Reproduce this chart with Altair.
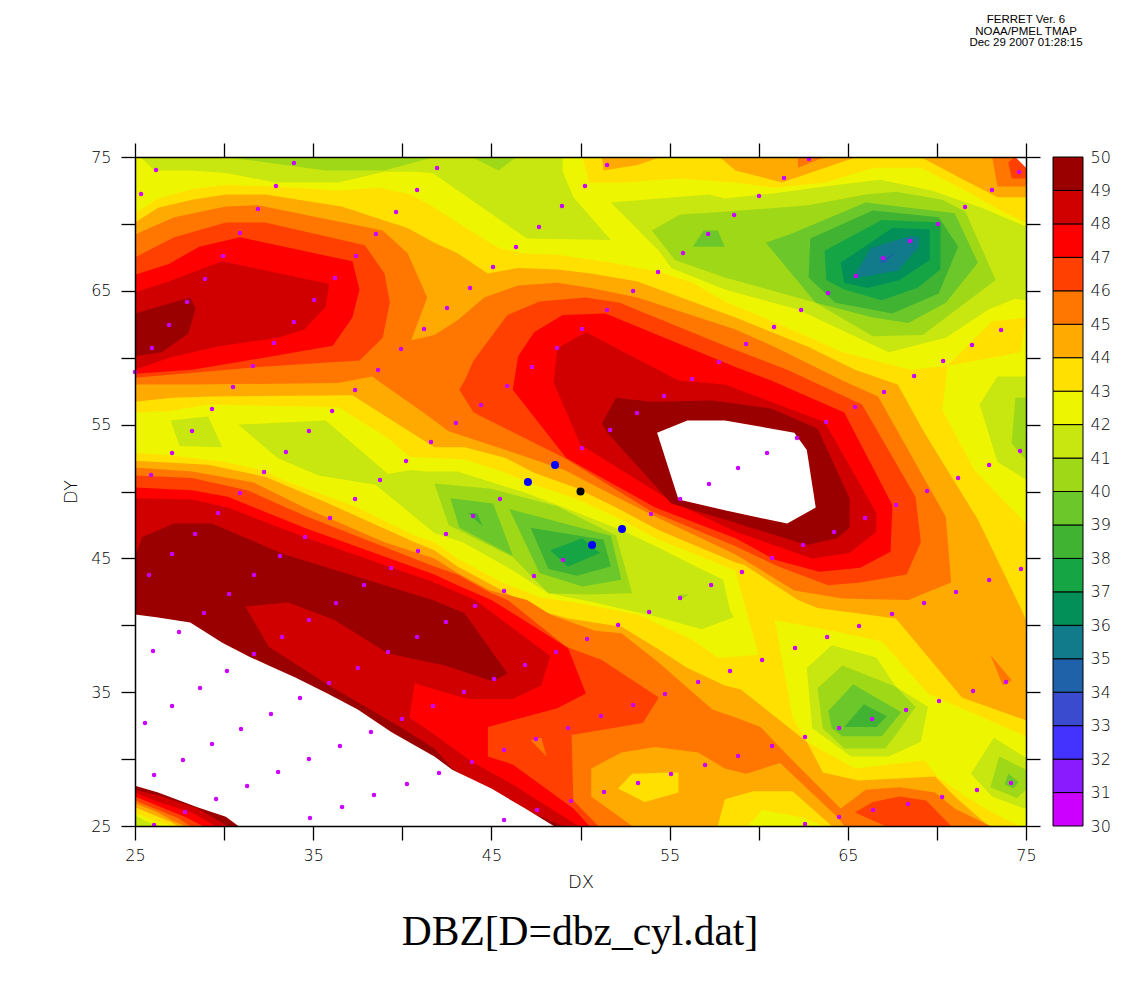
import altair as alt
import pandas as pd

BANDS = ["none", "30", "31", "32", "33", "34", "35", "36", "37", "38", "39", "40", "41", "42", "43", "44", "45", "46", "47", "48", "49"]
COLORS = ["#ffffff", "#cc00ff", "#8a1aff", "#4433ff", "#3a4bd0", "#1f62aa", "#117a8b", "#029058", "#16a545", "#40b333",
          "#6cc82a", "#9fd816", "#c8e60f", "#eef500", "#ffe000", "#ffaa00", "#ff7700", "#ff4000", "#ff0000", "#d00000", "#9b0000"]
BAR_LEVELS = list(range(30, 50))
TICKS = [25, 30, 35, 40, 45, 50, 55, 60, 65, 70, 75]

FRAME = [(25, 25), (75, 25), (75, 75), (25, 75)]
B42_TOP = [(25,75),(50.1,75),(50.5,73.1),(52.5,73.1),(55.5,73.4),(58.7,73.1),(60.9,72.7),(63.7,73.1),(66.5,74.2),(69.1,74.2),(71.6,72.5),(73.7,70.9),(75,70.1),(75,63),(73.1,62.7),(70.6,59.4),(68.5,59.1),(64.7,60.4),(61.5,62.3),(58.1,64.2),(56.3,65.6),(54.4,66.4),(51.8,67.1),(48.7,67.7),(46.7,67.8),(45.4,68.2),(43.1,70.1),(41.8,71.2),(40.5,72.2),(38.7,72.7),(36.4,72.5),(32.9,72.8),(30.1,72.9),(28.2,72.6),(26.3,71.9),(25,70.8)]
B42_RIGHT = [(70.6,59.4),(74.7,60.4),(75,63),(75,47.6),(72.1,51.6),(70.3,56.1)]
B42_MID = [(25,55.9),(26.9,56),(29.1,56.5),(36.4,56.3),(39.2,54),(40.4,52.6),(43.5,52.4),(45.8,51.4),(47.4,50.5),(49.7,49.5),(52,48.1),(54.4,46.4),(58.7,44.1),(59.3,41.1),(60,37.8),(58.1,37.6),(57.7,37.6),(56.3,38.9),(53.2,40.8),(49.7,41.7),(47.7,42.1),(45.6,43.2),(43.1,45),(41.8,46.2),(40.7,46.7),(37.5,48.8),(33.4,50.8),(32.1,51.6),(30.1,52.2),(26.9,52.7),(25,52.9)]
B42_LOW = [(60.9,40.4),(64.1,39.6),(66.9,38.8),(69.5,34.9),(75,31.7),(75,25),(74.6,25),(73.1,26),(71.6,27.2),(70.1,28.6),(69.3,29.9),(65.4,29.3),(62.7,31.3),(61.9,33.1)]
B42_BOT = [(59.4,25),(60.2,26.2),(62.6,25.6),(63.6,25)]

B41 = [
    [(25.3,75),(26.1,74),(28.2,74),(30.1,73.8),(32.9,73.1),(36.4,73.1),(39,73.9),(40.7,73.9),(41.7,73.8),(47,68.9),(51.7,68.8),(49.6,72),(49,73.9),(49,75)],
    [(51.7,71.6),(57.2,72.2),(58.1,71.9),(60.9,72.3),(63.7,72.8),(66.8,73.3),(69.7,72.5),(72.5,71.2),(75,69.8),(75,64.3),(74.4,64.4),(72.9,63.6),(70.5,61.5),(67.3,60.4),(62.2,63.6),(58.1,65.1),(55.1,66.7),(54.4,68)],
    [(27,55.3),(29.1,55.6),(29.9,53.3),(27.5,53.4)],
    [(30.8,55),(35.7,55.3),(39.2,51.3),(40.5,51.6),(41.3,51.5),(43.1,51.5),(45,50.7),(46.9,49.9),(48.7,49),(50.6,48),(52.3,47.1),(54.4,45.8),(56.3,44.5),(58,43.4),(58.4,41.1),(58.6,40.6),(56.8,39.7),(54.4,40.6),(50.8,41.7),(48.2,42.4),(46.2,44.1),(43.4,46.2),(41.8,46.9),(38.5,50.5),(35.3,51.2),(33,52.5)],
    [(73.4,58.6),(75,58.6),(75,50.9),(73.4,52.2),(72.4,56.5)],
    [(64.1,38.5),(66.6,37.6),(67.7,35.4),(69.5,33.9),(69.1,31.3),(67.3,30.2),(65.2,30.2),(63,32.3),(62.7,36.8)],
    [(73.2,31.6),(75,30.1),(75,26.3),(74.7,26.4),(73.1,27.2),(71.9,28.9)],
]
B40 = [
    [(30.1,75),(32.3,74.6),(35.7,74),(39,74),(41.8,75)],
    [(43.9,75),(45.4,74),(46.4,75)],
    [(54,69.5),(55.6,70.7),(58.1,70.9),(62.8,71.4),(66,72.2),(67.7,72.4),(70.3,71.8),(71.6,70.9),(73.3,65.8),(69.2,61.7),(66.4,61.6),(63.2,64.1),(58.1,66),(55.3,67.3)],
    [(41.8,50.6),(45,50.2),(48.7,48.9),(52,46.7),(52.9,42.4),(50.3,42.3),(48.2,42.4),(46.2,45.1),(42.6,47.5)],
    [(55.5,42.3),(56.1,42.3),(55.6,41.9)],
    [(74.4,57),(75,57),(75,52.4),(74.6,52.9),(74.2,53.6)],
    [(64.7,37),(67.7,35.4),(68.8,33.9),(67.8,32),(67.1,30.8),(64.8,30.8),(63.6,32.3),(63.3,35.3)],
    [(73.5,30.2),(75,29.2),(75,27.7),(74.5,27.1),(73,27.9)],
]
B39 = [
    [(56.9,69.5),(57.7,69.5),(58.1,68.3),(56.3,68.3)],
    [(60.4,68.6),(61.9,69.3),(66,71.6),(71,70.8),(72.3,67.1),(70.5,64.1),(68.4,62.6),(66.4,63),(63.2,64.1)],
    [(42.7,49.5),(45.1,49.1),(46.2,45.2),(43.2,47.3)],
    [(46,48.7),(51.7,46.7),(52.3,43.4),(50.1,42.9),(47.7,43.9)],
    [(65.3,35.6),(68,33.5),(66.9,31.7),(64.7,31.7),(64.1,32.3),(63.9,33.6)],
    [(74,28.9),(74.6,28.3),(74.3,27.8),(73.8,28.1)],
]
B38 = [
    [(62.9,68.9),(66.4,71),(70.1,70.5),(71.2,68.3),(70.1,64.8),(67.5,63.3),(64.3,64.1),(62.8,66)],
    [(43.7,48.4),(44.2,48.4),(44.5,47.4)],
    [(47.2,47.3),(51.3,46.4),(51.7,44.4),(49.8,43.7),(48.2,44.2)],
    [(65.9,34.1),(67.2,33.2),(66.6,32.4),(64.8,32.4)],
]
B37 = [
    [(63.7,68),(66.9,70.3),(70.2,70.1),(70.2,66.6),(68.9,65.2),(66.9,64.3),(64.8,65.1),(63.8,65.8)],
    [(48.3,45.6),(50.1,46.5),(51.1,45.4),(49.3,44.4)],
]
B36 = [[(64.6,67.1),(67.5,69.7),(69.6,69.6),(69.6,67.3),(67.9,65.8),(66.1,65.2),(64.8,65.6)]]
B35 = [[(65.3,66),(66.3,68.2),(68.5,69.1),(69,69),(69,68.3),(67.8,66.5),(65.6,66)]]
B34 = [[(66.7,67.1),(67.7,67.9),(67.1,67.1)]]

B44 = [
    [(25,70.1),(26.3,71.2),(28.2,71.8),(30.1,72.2),(32.3,72.2),(36.6,71.3),(38.9,70.3),(40.3,69.7),(41.8,68.6),(43.1,67.8),(44.8,66.3),(46.5,66.7),(48.7,66.6),(50.6,66.3),(53.2,65.7),(58.7,63),(62.8,60.8),(65.4,59.1),(67.8,58),(69.3,54.4),(72.3,47.9),(74.7,41.3),(75,40.4),(75,32.9),(71.4,34.6),(67.7,40.5),(63.3,41.3),(62.2,41.9),(59.2,44.5),(58.7,44.7),(54.4,47.1),(52,48.8),(49.7,50.3),(47.4,51.4),(45.8,52.5),(43.5,53.3),(41.8,53.3),(37.2,57.2),(29.3,57.1),(27.1,57),(25,56.7)],
    [(51.2,75),(54.5,75),(53.2,74.4),(51.3,74)],
    [(57.8,75),(58.7,74),(61.3,73.1),(65.5,75)],
    [(69.1,75),(71.2,73.5),(73.4,72),(75,72),(75,75)],
    [(25,52.3),(29.1,52),(32.3,51.1),(35.7,49.2),(40.7,46.2),(41.8,45.6),(43.1,44.4),(45.6,42.6),(47.7,41.1),(49.3,40.5),(52.3,39.9),(54.4,38.2),(56,36.8),(58.1,35.5),(59,35.2),(62.7,31.3),(63.6,29),(65.6,28.4),(69.9,28.7),(71,27.2),(72.9,25),(64.1,25),(61.9,27.6),(59.7,27.6),(58.1,27),(57.7,25),(25,25)],
]
B43_ISLAND = [(52.1,27.8),(52.9,28.9),(55.1,29),(55.5,29),(55.5,27.5),(53.6,26.8)]
B45 = [
    [(25,69.2),(27.2,70.5),(30.1,71.3),(31.9,71.4),(38.9,69.5),(40.3,67.8),(41.4,64.5),(40.5,61.3),(41.8,61.7),(43.1,62.8),(44.6,64.5),(46.5,65.4),(48.7,65.6),(50.6,65.2),(53.2,64.5),(58.7,62.1),(60.9,60.8),(64.7,58.3),(66.7,57.1),(70.5,48.1),(70.8,43.2),(68.4,41.9),(64.7,42),(62,42.6),(58.7,45.3),(54.4,48),(52,49.6),(49.1,51.6),(45.8,53.1),(42.6,54.5),(41.3,55.8),(38.3,58.6),(36.4,58.1),(28.2,58),(25,58)],
    [(25,51.8),(28.2,51.5),(31.6,50.7),(34.5,48.8),(39,46.2),(41.8,45),(43.1,43.9),(44.9,42.6),(47,41.9),(48.3,40.8),(50.8,39.6),(52.3,39.4),(54.4,37.2),(57.4,33.7),(58.7,33.1),(60.1,32.4),(61.6,30.3),(64.6,26.3),(66,27.7),(67.9,27.9),(69.9,27.5),(71,26.3),(73,25),(64.8,25),(64.4,25.7),(63.9,26.3),(61.2,29.7),(59.3,28.9),(58.1,29.3),(56.6,30.5),(54.2,30.9),(52.3,30.5),(50.6,29.3),(50.6,27.2),(52.9,25),(25,25)],
    [(73,37.8),(74.2,35.9),(73.7,35.5)],
    [(62.2,75),(63.7,75),(62.2,74.2)],
    [(73.1,75),(73.4,72.8),(75,72.8),(75,75)],
]
B46 = [
    [(25,67.5),(27.2,69),(30.1,70.1),(32.3,70.1),(37.9,68.4),(39,66.3),(39.3,64.1),(38.9,61.5),(37.6,59.8),(31.9,59.3),(25,58.5)],
    [(43.2,57.6),(43.5,58.3),(44,59.8),(45.9,63.2),(47.7,64.2),(50.3,64.5),(52.2,64.1),(58.1,60.9),(61.6,59.1),(65.8,56.5),(68.8,49.6),(69.1,46.2),(68.3,43.8),(65.7,43.2),(63.9,43),(61.1,44.4),(58.7,45.9),(54,48.5),(49.1,52.5),(44,55.9)],
    [(25,51.2),(28.2,51),(31.3,50.1),(34.5,48.2),(41.8,44.4),(43.1,43.8),(45,42.4),(45.9,41.9),(49.2,38.4),(51.2,37.4),(54.4,34.6),(53.5,32.7),(49.5,31.8),(49.6,26.9),(51,25),(25,25)],
    [(65.4,26),(66.4,26.8),(67.9,27.2),(69.4,26.9),(70.8,25),(67.1,25)],
    [(74,74.6),(74.2,73.4),(75,73.4),(75,75),(74.4,75)],
]
B45_NOTCH = [(47.2,31.4),(47.8,31.6),(48.1,30.2)]
B47 = [
    [(25,66.2),(26.9,67),(28.6,68.3),(30.9,69),(37.2,67.2),(37.6,65.1),(37.2,63),(36.1,60.9),(32.7,60.1),(28.2,59.1),(25,58.8)],
    [(46.2,57.6),(46.5,60.1),(47.4,61.9),(49,63.2),(51.4,63.3),(58.7,59.3),(60.7,58.3),(64.8,55.9),(67.5,49),(67.4,45.5),(65.7,44.3),(63.4,44),(60.9,44.9),(58.7,46.5),(54.2,48.8),(49.2,52.5)],
    [(25,50.3),(28.2,50.1),(30.2,49.6),(34.5,47.3),(41.8,43.8),(43.1,43),(45,41.9),(49.3,38.3),(50.3,34.9),(48.7,33.8),(44.8,32.4),(44.8,30.2),(46.2,29.6),(49.6,26.3),(50.5,25),(25,25)],
]
B48 = [
    [(25,64.9),(26.7,65.6),(29.9,67.2),(35.9,65.5),(35.7,63.8),(34.5,62.1),(33,61.5),(29.5,60.8),(26.9,60),(25,59.1)],
    [(48.5,58.1),(48.7,60.7),(50.3,61.9),(55.5,58.3),(58.1,58),(63.7,55.2),(66.6,48.4),(66.6,47),(65.1,45.4),(63,45),(58.7,47),(55.2,49.2),(50,53.5)],
    [(25,49.5),(28.2,49.4),(30.2,48.8),(34.5,46.6),(41.8,43.2),(44.1,41.9),(48.3,37.7),(47.8,35.5),(46.2,34.5),(43.7,34.5),(41.3,35.4),(40.7,35.7),(40.4,33.1),(41.3,32.3),(43.9,29.8),(46.2,28.1),(49.9,25),(25,25)],
]
B49 = [
    [(25,63.3),(28.1,64.5),(28.4,63.7),(28,61.8),(26.5,60.4),(25,60.1)],
    [(51.2,55.1),(52,57),(54,56.7),(57.4,56.8),(60.7,56.2),(63.3,54.7),(65.1,49.5),(65.1,47.3),(64.4,46.5),(62.7,46),(58.1,47.9),(55.1,49.1),(51.5,54.4)],
    [(25,45.1),(25.4,46.6),(27.2,47.6),(29.3,47.6),(33.4,45.3),(41.7,41.9),(43.5,40.9),(45.9,36.4),(45.1,35.8),(42.4,37),(41.3,37.3),(39.2,37.9),(36.2,40.4),(33.6,41.7),(31.2,41.4),(32.5,38.4),(35.9,35.5),(40,32.3),(41.8,30.8),(42.8,29.3),(46.7,26.3),(49,25),(25,25)],
]
HOLES = [
    [(54.3,54.4),(56,55.3),(58.1,55.3),(62,54.4),(62.7,53.1),(63.2,48.8),(61.6,47.6),(58.1,48.6),(55.5,49.4)],
    [(25,40.8),(26.2,40.6),(28.1,40.2),(29.9,38.7),(31.5,37.6),(32.5,37),(34,36.1),(35.8,34.9),(37.5,33.7),(39.4,32),(41.8,30.2),(42.8,29.2),(45,27.8),(46.9,26.3),(48.5,25),(30.8,25),(30.1,25.7),(28.5,26.4),(26.3,27.5),(25,28)],
    [(74.4,75),(75,75),(75,74.2)],
]
WEDGE = [
    ("48", [(25,27.7),(26.5,27.2),(28.5,26.3),(30.2,25),(25,25)]),
    ("47", [(25,27.5),(26.3,26.8),(28.2,26),(29.5,25),(25,25)]),
    ("46", [(25,27.2),(26.3,26.5),(27.8,25.7),(28.8,25),(25,25)]),
    ("45", [(25,26.9),(26.3,26.2),(27.4,25.6),(28.1,25),(25,25)]),
    ("44", [(25,26.7),(26.3,26),(27.1,25.4),(27.8,25),(25,25)]),
    ("43", [(25,26.4),(26.3,25.7),(27,25.3),(27.4,25),(25,25)]),
    ("42", [(25,26),(26.1,25.4),(27.1,25),(25,25)]),
    ("41", [(25,25.8),(25.7,25.3),(26.4,25),(25,25)]),
]

DOTS = [(26.18,74.03),(33.92,74.55),(25.34,72.24),(32.91,72.83),(40.83,72.53),(31.9,71.11),(39.65,70.89),(30.89,69.32),(38.52,69.25),(29.94,67.6),(37.4,67.6),(28.93,65.88),(36.22,65.96),(27.92,64.16),(35.05,64.31),(26.91,62.44),(33.92,62.67),(25.95,60.73),(32.8,61.1),(41.22,62.15),(39.93,60.65),(31.62,59.38),(38.64,59.08),(25,58.93),
(41.95,74.18),(51.49,74.4),(50.25,72.83),(48.96,71.34),(47.67,69.77),(46.38,68.27),(45.09,66.78),(43.8,65.21),(42.51,63.72),(58.62,70.67),(57.16,69.25),(55.75,67.83),(54.35,66.41),(52.95,64.99),(51.49,63.57),(50.09,62.15),(48.68,60.73),(47.28,59.31),(57.77,59.68),(56.26,58.41),
(62.82,74.85),(61.42,73.43),(60.02,72.09),(74.61,73.88),(73.09,72.53),(71.58,71.26),(70.06,69.99),(68.49,68.72),(66.98,67.45),(65.46,66.11),(63.89,64.84),(62.38,63.57),(60.86,62.3),(59.29,61.02),(73.6,62.07),(71.97,60.95),(70.35,59.75),(68.72,58.63),
(30.5,57.81),(37.35,57.59),(29.32,56.17),(36.06,56.02),(28.2,54.52),(34.76,54.52),(41.61,53.7),(27.08,52.88),(33.47,52.95),(40.21,52.28),(25.9,51.23),(32.24,51.46),(38.75,50.86),(30.89,49.89),(37.35,49.44),(29.66,48.39),(35.94,48.02),(28.37,46.82),(34.54,46.6),(40.88,45.55),(27.08,45.33),(33.14,45.18),(39.37,44.28),(25.79,43.76),(31.68,43.76),(37.85,43.01),(30.28,42.34),(36.28,41.67),
(45.88,57.89),(54.69,57.14),(44.42,56.47),(53.17,55.87),(43.01,55.12),(51.66,54.6),(50.09,53.25),(57.21,50.56),(45.48,49.44),(55.59,49.44),(43.97,48.17),(53.96,48.32),(42.45,46.82),(49.02,44.88),(47.39,43.69),(45.71,42.56),(44.08,41.44),(57.33,43.01),(55.59,42.04),
(67.03,57.44),(65.41,56.32),(63.78,55.2),(62.15,54),(60.47,52.88),(58.84,51.76),(74.67,53.03),(72.93,51.98),(71.19,51.01),(69.45,50.04),(67.71,48.99),(65.97,48.02),(64.23,46.97),(62.49,46),(60.75,45.03),(59.06,43.98),(74.72,44.21),(72.93,43.39),(71.07,42.49),(69.28,41.67),
(28.87,40.92),(34.76,40.4),(27.47,39.5),(33.25,39.13),(40.83,39.13),(26.01,38.08),(31.68,37.86),(39.2,38),(37.51,36.81),(30.16,36.58),(35.89,35.69),(28.65,35.31),(34.26,34.57),(27.08,33.97),(32.63,33.37),(41.72,33.97),(25.56,32.7),(30.95,32.25),(39.98,33),(38.24,32.03),(29.32,31.13),(36.5,30.98),(27.69,29.93),(34.76,30.01),(33.03,29.04),(26.07,28.81),(31.29,27.99),(40.26,28.14),(38.41,27.32),(29.55,27.02),(36.62,26.42),(27.81,26.05),(34.82,25.6),(26.07,25.07),
(53.85,40.99),(52.11,40.02),(42.45,40.25),(50.37,38.98),(48.63,38),(46.89,37.03),(45.15,35.99),(43.46,35.02),(58.39,36.58),(56.6,35.76),(54.74,34.87),(52.95,34.04),(51.15,33.22),(49.3,32.32),(47.5,31.5),(45.71,30.68),(43.91,29.78),(42.06,28.96),(56.99,29.56),(55.08,28.89),(53.23,28.21),(51.32,27.54),(49.47,26.87),(47.56,26.2),(45.71,25.45),
(67.48,40.85),(65.63,39.95),(63.84,39.13),(62.04,38.3),(60.19,37.41),(73.88,35.76),(72.03,35.09),(70.12,34.34),(68.27,33.67),(66.36,33),(64.51,32.32),(62.6,31.65),(60.75,30.98),(58.84,30.23),(74.16,28.21),(72.25,27.69),(70.29,27.17),(68.38,26.64),(66.42,26.2),(64.51,25.67),(62.6,25.15)]
BLUE_DOTS = [(48.57,51.98),(47.05,50.71),(52.33,47.2),(50.65,46)]
BLACK_DOTS = [(50,50)]

regions = [("43", FRAME), ("42", B42_TOP), ("42", B42_RIGHT), ("42", B42_MID), ("42", B42_LOW), ("42", B42_BOT)]
for band, group in [("41", B41), ("40", B40), ("39", B39), ("38", B38), ("37", B37), ("36", B36), ("35", B35), ("34", B34), ("44", B44)]:
    regions += [(band, p) for p in group]
regions.append(("43", B43_ISLAND))
for band, group in [("45", B45), ("46", B46)]:
    regions += [(band, p) for p in group]
regions.append(("45", B45_NOTCH))
for band, group in [("47", B47), ("48", B48), ("49", B49), ("none", HOLES)]:
    regions += [(band, p) for p in group]
regions += WEDGE

rows = []
for pid, (band, pts) in enumerate(regions):
    for seq, (x, y) in enumerate(pts):
        rows.append({"poly": pid, "seq": seq, "band": band, "dx": x, "dy": y})
poly_df = pd.DataFrame(rows)

FONT = "DejaVu Sans"
LIGHT = 200
dom = alt.Scale(domain=[25, 75], nice=False, zero=False)
label_expr = "(datum.value - 25) % 10 == 0 ? datum.label : ''"
line_style = dict(values=TICKS, tickSize=14, tickWidth=1.3, tickColor="black", domainColor="black", domainWidth=1.5,
                  grid=False, zindex=1, labelOverlap=False)
text_style = dict(labelFont=FONT, labelFontSize=16, labelFontWeight=LIGHT, labelColor="black", titleFont=FONT, titleFontSize=18,
                  titleFontWeight=LIGHT, titleColor="black", labelFlush=False, labelExpr=label_expr)

polys = alt.Chart(poly_df).mark_line(strokeWidth=0, interpolate="linear").encode(
    x=alt.X("dx:Q", scale=dom, axis=alt.Axis(title="DX", orient="bottom", labelPadding=7, titlePadding=10, **line_style, **text_style)),
    y=alt.Y("dy:Q", scale=dom, axis=alt.Axis(title="DY", orient="left", labelPadding=10, titlePadding=10, **line_style, **text_style)),
    order="seq:Q",
    detail="poly:Q",
    fill=alt.Fill("band:N", scale=alt.Scale(domain=BANDS, range=COLORS), legend=None),
)

def dot_layer(points, color, size):
    df = pd.DataFrame(points, columns=["dx", "dy"])
    return alt.Chart(df).mark_circle(color=color, size=size, opacity=1).encode(
        x=alt.X("dx:Q", scale=dom, axis=None), y=alt.Y("dy:Q", scale=dom, axis=None))

mirror = alt.Chart(pd.DataFrame({"dx": [25], "dy": [25]})).mark_point(opacity=0).encode(
    x=alt.X("dx:Q", scale=dom, axis=alt.Axis(orient="top", labels=False, title=None, **line_style)),
    y=alt.Y("dy:Q", scale=dom, axis=alt.Axis(orient="right", labels=False, title=None, **line_style)),
)

bar_df = pd.DataFrame({"lo": BAR_LEVELS, "hi": [v + 1 for v in BAR_LEVELS], "band": [str(v) for v in BAR_LEVELS]})
bar = alt.Chart(bar_df).mark_rect(stroke="black", strokeWidth=1).encode(
    x=alt.value(918), x2=alt.value(948),
    y=alt.Y("lo:Q", scale=alt.Scale(domain=[30, 50], nice=False, zero=False),
            axis=alt.Axis(orient="right", offset=57, values=list(range(30, 51)), tickSize=0, domain=False, grid=False, title=None,
                          labelFont=FONT, labelFontSize=16, labelFontWeight=LIGHT, labelColor="black", labelPadding=7, labelFlush=False, labelOverlap=False)),
    y2="hi:Q",
    fill=alt.Fill("band:N", scale=alt.Scale(domain=BANDS, range=COLORS), legend=None),
)

def note(text, px, py, size, font=FONT, weight=LIGHT):
    return alt.Chart(pd.DataFrame({"t": [text]})).mark_text(fontSize=size, font=font, fontWeight=weight, color="black", align="center", baseline="middle").encode(
        text="t:N", x=alt.value(px), y=alt.value(py))

title = note("DBZ[D=dbz_cyl.dat]", 445, 776, 41.5, "Liberation Serif", "normal")
h1 = note("FERRET Ver. 6", 891, -137, 11.5, "Liberation Sans", "normal")
h2 = note("NOAA/PMEL TMAP", 891, -125, 11.5, "Liberation Sans", "normal")
h3 = note("Dec 29 2007 01:28:15", 891, -114, 11.5, "Liberation Sans", "normal")

chart = alt.layer(polys, dot_layer(DOTS, "#cc00ff", 20), dot_layer(BLUE_DOTS, "#0000ff", 64), dot_layer(BLACK_DOTS, "black", 64),
                  mirror, bar, title, h1, h2, h3).resolve_scale(x="independent", y="independent").properties(
    width=891, height=669, autosize="none",
    padding={"left": 127, "top": 149, "right": 100, "bottom": 140},
).configure_view(stroke=None).configure(background="white")

chart.save("out.html", embed_options={"renderer": "svg", "actions": False})
